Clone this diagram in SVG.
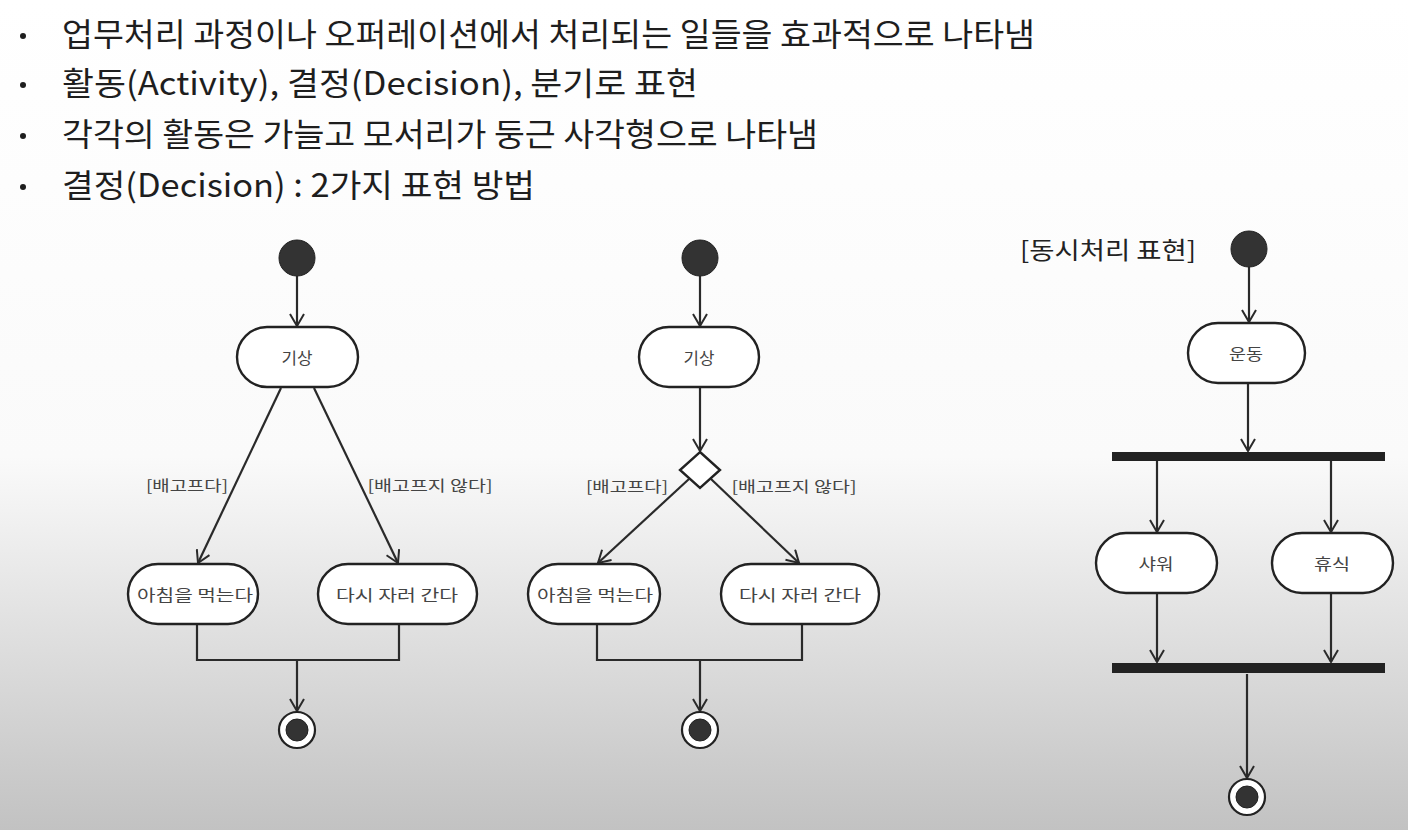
<svg xmlns="http://www.w3.org/2000/svg" width="1408" height="830" viewBox="0 0 1408 830">
<defs>
<linearGradient id="bg" x1="0" y1="0" x2="0" y2="1">
<stop offset="0" stop-color="#ffffff"/>
<stop offset="0.55" stop-color="#fafafa"/>
<stop offset="1" stop-color="#c2c2c2"/>
</linearGradient>
<marker id="arr" markerWidth="16" markerHeight="16" refX="13" refY="8" orient="auto" markerUnits="userSpaceOnUse">
<path d="M1,1 L13,8 L1,15" fill="none" stroke="#2a2a2a" stroke-width="2"/>
</marker>
<style>
.bul{font-family:"Noto Sans CJK KR","Noto Sans",sans-serif;font-size:32px;fill:#1e1e1e}
.act{fill:#ffffff;stroke:#222;stroke-width:2.4}
.lbl{font-family:"Noto Sans CJK KR",sans-serif;font-size:16px;fill:#444;text-anchor:middle;dominant-baseline:central}
.g{font-family:"Noto Sans CJK KR",sans-serif;font-size:15px;fill:#444;text-anchor:middle;dominant-baseline:central}
.ln{fill:none;stroke:#2a2a2a;stroke-width:2.2}
.ar{fill:none;stroke:#2a2a2a;stroke-width:2.2;marker-end:url(#arr)}
.st{fill:#333;stroke:#222;stroke-width:1}
.bar{fill:#222}
</style>
</defs>
<rect width="1408" height="830" fill="url(#bg)"/>

<g id="bullets">
<circle cx="23" cy="36" r="3" fill="#1e1e1e"/>
<text class="bul" x="62" y="46" textLength="973" lengthAdjust="spacingAndGlyphs">업무처리 과정이나 오퍼레이션에서 처리되는 일들을 효과적으로 나타냄</text>
<circle cx="23" cy="85" r="3" fill="#1e1e1e"/>
<text class="bul" x="62" y="95" textLength="636" lengthAdjust="spacingAndGlyphs">활동(Activity), 결정(Decision), 분기로 표현</text>
<circle cx="23" cy="136" r="3" fill="#1e1e1e"/>
<text class="bul" x="62" y="146" textLength="756" lengthAdjust="spacingAndGlyphs">각각의 활동은 가늘고 모서리가 둥근 사각형으로 나타냄</text>
<circle cx="23" cy="187" r="3" fill="#1e1e1e"/>
<text class="bul" x="62" y="197" textLength="473" lengthAdjust="spacingAndGlyphs">결정(Decision) : 2가지 표현 방법</text>
</g>

<g id="connectors">
<!-- diagram 1 -->
<line class="ar" x1="297" y1="276" x2="297" y2="326"/>
<line class="ar" x1="281" y1="388" x2="198" y2="563"/>
<line class="ar" x1="314" y1="388" x2="398" y2="563"/>
<polyline class="ln" points="197,624 197,660 399,660 399,624"/>
<line class="ar" x1="297" y1="660" x2="297" y2="711"/>
<!-- diagram 2 -->
<line class="ar" x1="700" y1="276" x2="700" y2="326"/>
<line class="ar" x1="700" y1="388" x2="700" y2="451"/>
<line class="ar" x1="689" y1="479" x2="598" y2="563"/>
<line class="ar" x1="711" y1="479" x2="799" y2="563"/>
<polyline class="ln" points="597,624 597,660 802,660 802,624"/>
<line class="ar" x1="700" y1="660" x2="700" y2="711"/>
<!-- diagram 3 -->
<line class="ar" x1="1249" y1="267" x2="1249" y2="322"/>
<line class="ar" x1="1248" y1="383" x2="1248" y2="451"/>
<line class="ar" x1="1157" y1="461" x2="1157" y2="532"/>
<line class="ar" x1="1331" y1="461" x2="1331" y2="532"/>
<line class="ar" x1="1157" y1="593" x2="1157" y2="662"/>
<line class="ar" x1="1331" y1="593" x2="1331" y2="662"/>
<line class="ar" x1="1247" y1="674" x2="1247" y2="778"/>
</g>

<g id="d1-start"><circle class="st" cx="297" cy="258" r="18"/></g>
<g id="d1-wake"><rect class="act" x="237" y="327" width="121" height="60" rx="30"/><text class="lbl" x="297" y="357" textLength="31" lengthAdjust="spacingAndGlyphs">기상</text></g>
<g id="d1-guard-yes"><text class="g" x="187" y="484" textLength="82" lengthAdjust="spacingAndGlyphs">[배고프다]</text></g>
<g id="d1-guard-no"><text class="g" x="430" y="484" textLength="125" lengthAdjust="spacingAndGlyphs">[배고프지 않다]</text></g>
<g id="d1-eat"><rect class="act" x="128" y="564" width="130" height="60" rx="30"/><text class="lbl" x="195" y="594" textLength="116" lengthAdjust="spacingAndGlyphs">아침을 먹는다</text></g>
<g id="d1-sleep"><rect class="act" x="318" y="564" width="159" height="60" rx="30"/><text class="lbl" x="397" y="594" textLength="122" lengthAdjust="spacingAndGlyphs">다시 자러 간다</text></g>
<g id="d1-end"><circle cx="297" cy="730" r="18" fill="#fff" stroke="#222" stroke-width="2.2"/><circle class="st" cx="297" cy="730" r="11"/></g>

<g id="d2-start"><circle class="st" cx="700" cy="258" r="18"/></g>
<g id="d2-wake"><rect class="act" x="639" y="327" width="120" height="60" rx="30"/><text class="lbl" x="699" y="357" textLength="31" lengthAdjust="spacingAndGlyphs">기상</text></g>
<g id="d2-decision"><polygon points="700,452 720,470 700,488 680,470" fill="#fff" stroke="#222" stroke-width="2.4"/></g>
<g id="d2-guard-yes"><text class="g" x="627" y="485" textLength="82" lengthAdjust="spacingAndGlyphs">[배고프다]</text></g>
<g id="d2-guard-no"><text class="g" x="794" y="485" textLength="125" lengthAdjust="spacingAndGlyphs">[배고프지 않다]</text></g>
<g id="d2-eat"><rect class="act" x="528" y="564" width="132" height="60" rx="30"/><text class="lbl" x="595" y="594" textLength="116" lengthAdjust="spacingAndGlyphs">아침을 먹는다</text></g>
<g id="d2-sleep"><rect class="act" x="721" y="564" width="158" height="60" rx="30"/><text class="lbl" x="800" y="594" textLength="122" lengthAdjust="spacingAndGlyphs">다시 자러 간다</text></g>
<g id="d2-end"><circle cx="700" cy="730" r="18" fill="#fff" stroke="#222" stroke-width="2.2"/><circle class="st" cx="700" cy="730" r="11"/></g>

<g id="d3-title"><text x="1020" y="259" font-family="'Noto Sans CJK KR',sans-serif" font-size="24" fill="#222" textLength="176" lengthAdjust="spacingAndGlyphs">[동시처리 표현]</text></g>
<g id="d3-start"><circle class="st" cx="1249" cy="249" r="18"/></g>
<g id="d3-exercise"><rect class="act" x="1188" y="323" width="117" height="60" rx="30"/><text class="lbl" x="1246" y="353" textLength="34" lengthAdjust="spacingAndGlyphs">운동</text></g>
<g id="d3-fork"><rect class="bar" x="1112" y="452" width="273" height="9"/></g>
<g id="d3-shower"><rect class="act" x="1096" y="533" width="121" height="60" rx="30"/><text class="lbl" x="1156" y="563" textLength="35" lengthAdjust="spacingAndGlyphs">샤워</text></g>
<g id="d3-rest"><rect class="act" x="1272" y="533" width="121" height="60" rx="30"/><text class="lbl" x="1332" y="563" textLength="36" lengthAdjust="spacingAndGlyphs">휴식</text></g>
<g id="d3-join"><rect class="bar" x="1112" y="663" width="273" height="10"/></g>
<g id="d3-end"><circle cx="1247" cy="797" r="18" fill="#fff" stroke="#222" stroke-width="2.2"/><circle class="st" cx="1247" cy="797" r="11"/></g>
</svg>
